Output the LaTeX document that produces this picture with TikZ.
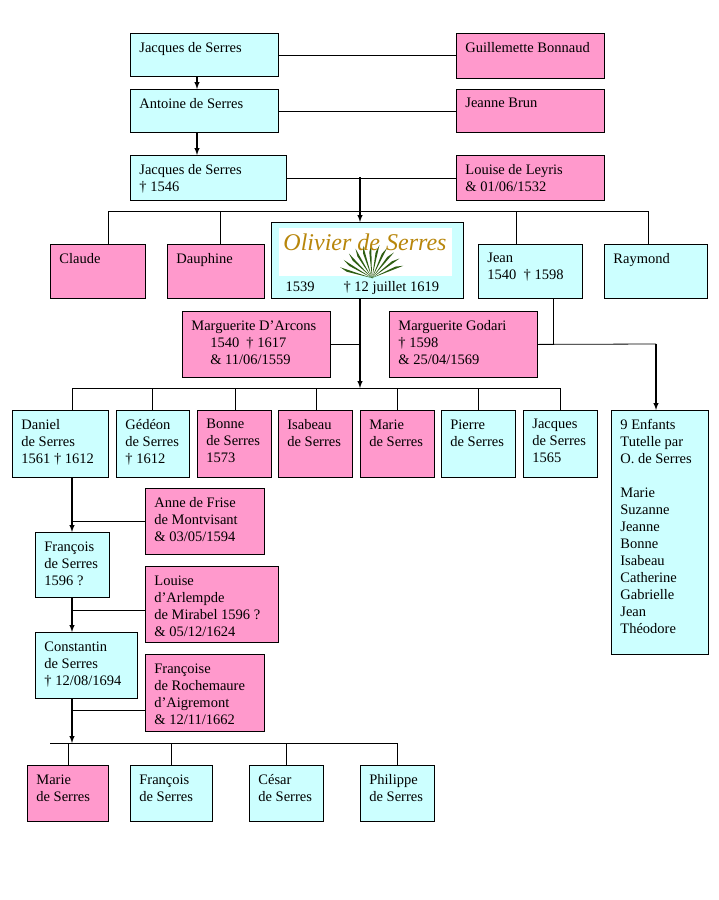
\documentclass[tikz,border=0pt]{standalone}
\usepackage{fontspec}
\setmainfont{Liberation Serif}
\usepackage{tikz}
\definecolor{cyanbox}{HTML}{CCFFFF}
\definecolor{pinkbox}{HTML}{FF99CC}
\definecolor{gold}{HTML}{B8860B}
\definecolor{leaf}{HTML}{2E5E12}
\tikzset{box/.style={draw,line width=0.8pt,anchor=north west,inner xsep=9pt,inner ysep=9pt,font=\fontsize{14.5}{17}\selectfont},
  arr/.style={-latex,line width=1.4pt},
  lnk/.style={line width=0.8pt}}
% \pers{name}{x}{y}{width}{height}{colour}{text}
\newcommand{\pers}[7]{\node[box,fill=#6,minimum width=#4pt,minimum height=#5pt] (#1) at (#2,#3)
  {\parbox[t][\dimexpr#5pt-18pt\relax][t]{\dimexpr#4pt-18pt\relax}{#7}};}

\begin{document}
\begin{tikzpicture}[x=1pt,y=-1pt]
    \useasboundingbox (0,0) rectangle (718,900);
    
    \pers{jac1}{130}{33}{148}{43}{cyanbox}{Jacques de Serres}
    \pers{guil}{456}{33}{148}{45}{pinkbox}{Guillemette Bonnaud}
    \pers{ant}{130}{89}{148}{43}{cyanbox}{Antoine de Serres}
    \pers{jbr}{456}{89}{148}{43}{pinkbox}{Jeanne Brun}
    \pers{jac2}{130}{155}{156}{45}{cyanbox}{Jacques de Serres\\† 1546}
    \pers{lou}{456}{155}{148}{45}{pinkbox}{Louise de Leyris\\\& 01/06/1532}
    
    \pers{cla}{50}{244}{95}{54}{pinkbox}{Claude}
    \pers{dau}{167}{244}{97}{54}{pinkbox}{Dauphine}
    \pers{jean}{478}{244}{104}{54}{cyanbox}{Jean\\1540\ \ † 1598}
    \pers{ray}{604}{244}{103}{54}{cyanbox}{Raymond}
    \node[box,fill=cyanbox,minimum width=192pt,minimum height=76pt,inner sep=0pt] (oli) at (271,222) {};
    \node[fill=white,anchor=north west,minimum width=173pt,minimum height=48pt,inner sep=0pt] (logo) at (279,228) {};
    \foreach \a in {-70,-56,...,70}
        \fill[leaf] (372,278) -- ++(-90+\a-6:26) -- ++(-90+\a+14:8) -- cycle;
    \node[text=gold,font=\fontsize{24}{24}\selectfont\itshape] (name) at (365,242) {Olivier de Serres};
    \node[anchor=base west,font=\fontsize{14.5}{17}\selectfont] (dates) at (282,291) {1539\qquad † 12 juillet 1619};
    
    \pers{mda}{182}{311}{148}{66}{pinkbox}{Marguerite D’Arcons\\\hspace*{1.3em}1540\ \ † 1617\\\hspace*{1.3em}\& 11/06/1559}
    \pers{mgo}{389}{311}{148}{66}{pinkbox}{Marguerite Godari\\† 1598\\\& 25/04/1569}
    
    \pers{dan}{12}{410}{96}{67}{cyanbox}{Daniel\\de Serres\\1561 † 1612}
    \pers{ged}{116}{410}{73}{67}{cyanbox}{Gédéon\\de Serres\\† 1612}
    \pers{bon}{197}{410}{74}{67}{pinkbox}{Bonne\\de Serres\\1573}
    \pers{isa}{278}{410}{74}{67}{pinkbox}{Isabeau\\de Serres}
    \pers{mar}{360}{410}{74}{67}{pinkbox}{Marie\\de Serres}
    \pers{pie}{441}{410}{74}{67}{cyanbox}{Pierre\\de Serres}
    \pers{jac3}{523}{410}{74}{67}{cyanbox}{Jacques\\de Serres\\1565}
    \pers{enf}{611}{410}{97}{244}{cyanbox}{9 Enfants\\Tutelle par\\O. de Serres\\[17pt]Marie\\Suzanne\\Jeanne\\Bonne\\Isabeau\\Catherine\\Gabrielle\\Jean\\Théodore}
    
    \pers{anne}{145}{488}{119}{66}{pinkbox}{Anne de Frise\\de Montvisant\\\& 03/05/1594}
    \pers{fra1}{35}{532}{74}{65}{cyanbox}{François\\de Serres\\1596 ?}
    \pers{lou2}{145}{566}{133}{76}{pinkbox}{Louise\\d’Arlempde\\de Mirabel 1596 ?\\\& 05/12/1624}
    \pers{con}{35}{632}{102}{66}{cyanbox}{Constantin\\de Serres\\† 12/08/1694}
    \pers{fse}{145}{654}{119}{77}{pinkbox}{Françoise\\de Rochemaure\\d’Aigremont\\\& 12/11/1662}
    
    \pers{mar2}{27}{765}{81}{56}{pinkbox}{Marie\\de Serres}
    \pers{fra2}{130}{765}{82}{56}{cyanbox}{François\\de Serres}
    \pers{ces}{249}{765}{74}{56}{cyanbox}{César\\de Serres}
    \pers{phi}{360}{765}{74}{56}{cyanbox}{Philippe\\de Serres}
    
    % first generations
    \draw[lnk] (jac1.east) -- (jac1.east -| guil.west);
    \draw[arr] (197,76) -- (197,89);
    \draw[lnk] (ant.east) -- (ant.east -| jbr.west);
    \draw[arr] (197,132) -- (197,155);
    \draw[lnk] (jac2.east) -- (lou.west);
    \coordinate (m1) at (360,177);
    \draw[arr] (m1) -- (m1 |- oli.north);
    
    % siblings of Olivier
    \coordinate (b1) at (0,211);
    \draw[lnk] (108,211) -- (648,211);
    \foreach \x/\n in {108/cla,220/dau,516/jean,648/ray}
        \draw[lnk] (\x,211) -- (\x,0 |- \n.north);
    
    % children of Olivier
    \coordinate (b2) at (0,388);
    \draw[lnk] (72,388) -- (560,388);
    \draw[arr] (m1 |- oli.south) -- (m1 |- b2);
    \draw[lnk] (mda.east) -- (mda.east -| m1);
    \foreach \x/\n in {72/dan,152/ged,235/bon,316/isa,397/mar,478/pie,560/jac3}
        \draw[lnk] (\x,388) -- (\x,0 |- \n.north);
    
    % children of Jean
    \coordinate (m2) at (553,344);
    \draw[lnk] (m2 |- jean.south) -- (m2);
    \draw[lnk] (mgo.east) -- (656,344);
    \draw[arr] (656,344) -- (656,410);
    
    % line of Daniel
    \coordinate (c1) at (72,0);
    \draw[arr] (c1 |- dan.south) -- (c1 |- fra1.north);
    \draw[lnk] (anne.west) -- (anne.west -| c1);
    \draw[arr] (c1 |- fra1.south) -- (c1 |- con.north);
    \draw[lnk] (145,610) -- (72,610);
    \coordinate (b3) at (0,743);
    \draw[arr] (c1 |- con.south) -- (c1 |- b3);
    \draw[lnk] (145,710) -- (72,710);
    \draw[lnk] (50,743) -- (397,743);
    \foreach \n in {mar2,fra2,ces,phi}
        \draw[lnk] (\n.north |- b3) -- (\n.north);
    
\end{tikzpicture}
\end{document}
